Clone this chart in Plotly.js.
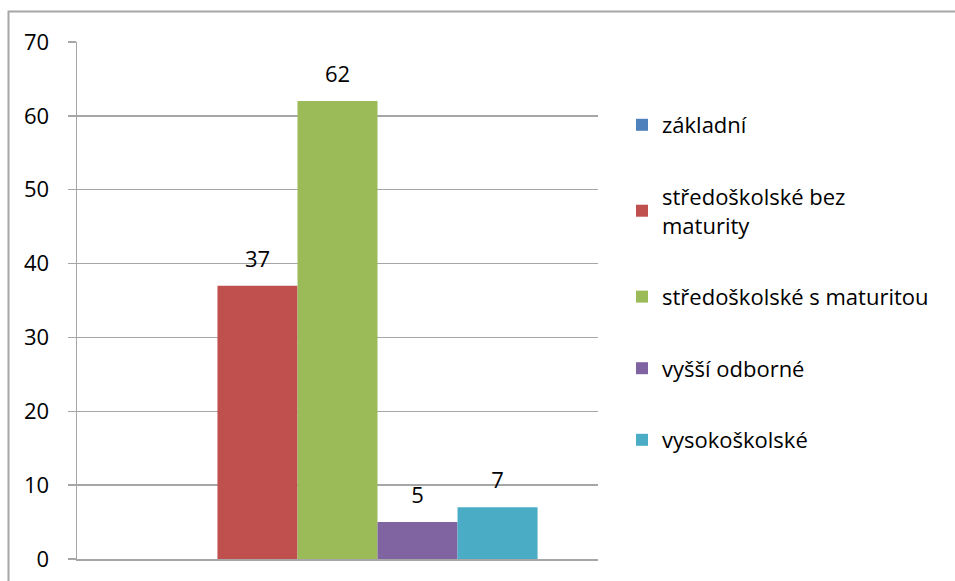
<!DOCTYPE html>
<html>
<head>
<meta charset="utf-8">
<script src="https://cdn.plot.ly/plotly-3.0.1.min.js"></script>
<style>html,body{margin:0;padding:0;background:#fff;}#chart{width:955px;height:581px;}</style>
</head>
<body>
<div id="chart"></div>
<script>
const category = ['vzdělání'];
const seriesNames = ['základní', 'středoškolské bez<br>maturity', 'středoškolské s maturitou', 'vyšší odborné', 'vysokoškolské'];
const seriesValues = [0, 37, 62, 5, 7];
const seriesColors = ['#4F81BD', '#C0504D', '#9BBB59', '#8064A2', '#4BACC6'];
const yTicks = [0, 10, 20, 30, 40, 50, 60, 70];

const FONT = '"Open Sans", Lato, sans-serif';
const W = 955, H = 581;
const L = 77, R = 357, T = 42, B = 22;
const pw = W - L - R, ph = H - T - B;

function labelFor(v) {
  if (!(v > 0)) return '';
  return '<span style="font-size:22px">' + v + '</span><br>\u00a0';
}

const traces = seriesNames.map((name, i) => ({
  type: 'bar',
  name: name,
  x: category,
  y: [seriesValues[i]],
  text: [labelFor(seriesValues[i])],
  textposition: 'outside',
  textfont: {family: FONT, size: 10, color: '#000'},
  cliponaxis: false,
  marker: {color: seriesColors[i], line: {width: 0}},
  legendgroup: 'g' + i,
  hoverinfo: 'none'
}));

const layout = {
  width: W, height: H,
  margin: {l: L, r: R, t: T, b: B, pad: 0},
  paper_bgcolor: '#fff', plot_bgcolor: '#fff',
  font: {family: FONT, size: 22, color: '#000'},
  barmode: 'group',
  bargap: 0.232,
  bargroupgap: 0,
  showlegend: true,
  legend: {
    x: (622 - L) / pw, xanchor: 'left',
    y: (H - B - 104) / ph, yanchor: 'top',
    traceorder: 'grouped',
    tracegroupgap: 40,
    font: {family: FONT, size: 22, color: '#000'},
    bgcolor: 'rgba(0,0,0,0)'
  },
  xaxis: {
    type: 'category',
    showticklabels: false,
    ticks: '',
    showgrid: false,
    zeroline: false,
    showline: true,
    linecolor: '#a6a6a6',
    linewidth: 1.5,
    fixedrange: true
  },
  yaxis: {
    range: [0, 70],
    tickvals: yTicks,
    ticktext: yTicks.map(String),
    ticks: 'outside',
    ticklen: 8,
    tickwidth: 1.5,
    tickcolor: '#a6a6a6',
    ticklabelstandoff: 14,
    showline: true,
    linecolor: '#a6a6a6',
    linewidth: 1.5,
    showgrid: true,
    gridcolor: '#a6a6a6',
    gridwidth: 1.5,
    zeroline: false,
    tickfont: {family: FONT, size: 22, color: '#000'},
    fixedrange: true
  },
  shapes: [{
    type: 'rect', xref: 'paper', yref: 'paper',
    x0: (8.5 - L) / pw, x1: (W + 10 - L) / pw,
    y0: (H - B - (H + 10)) / ph, y1: (H - B - 11.5) / ph,
    line: {color: '#a6a6a6', width: 2},
    fillcolor: 'rgba(0,0,0,0)',
    layer: 'below'
  }]
};

Plotly.newPlot('chart', traces, layout, {displayModeBar: false, staticPlot: true});
</script>
</body>
</html>
